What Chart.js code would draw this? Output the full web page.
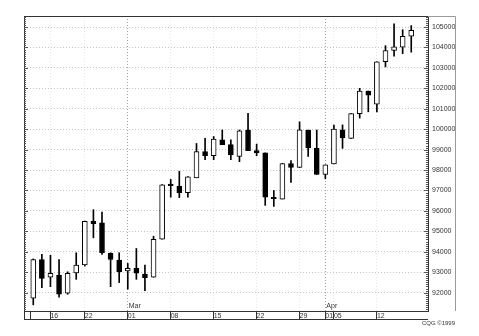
<!DOCTYPE html>
<html>
<head>
<meta charset="utf-8">
<script src="https://cdn.jsdelivr.net/npm/chart.js@4.4.0/dist/chart.umd.min.js"></script>
<style>
  body { margin: 0; background: #fff; }
  #wrap { width: 479px; height: 336px; }
</style>
</head>
<body>
<div id="wrap"><canvas id="candleChart" width="479" height="336"></canvas></div>
<script>
// daily bars, Feb 11 - Apr 16 1999
const dates = [
  '02-11', '02-12', '02-16', '02-17', '02-18', '02-19', '02-22', '02-23', '02-24', '02-25', '02-26',
  '03-01', '03-02', '03-03', '03-04', '03-05', '03-08', '03-09', '03-10', '03-11', '03-12',
  '03-15', '03-16', '03-17', '03-18', '03-19', '03-22', '03-23', '03-24', '03-25', '03-26',
  '03-29', '03-30', '03-31', '04-01', '04-05', '04-06', '04-07', '04-08', '04-09',
  '04-12', '04-13', '04-14', '04-15', '04-16'
];
const opens = [
  91730, 93620, 92750, 92860, 91970, 92970, 93350, 95490, 95410, 93920, 93590,
  93060, 93190, 92910, 92750, 94610, 97310, 97200, 96890, 97620, 98900,
  98700, 99480, 99240, 98670, 99960, 98950, 98840, 96660, 96580, 98320,
  98130, 99960, 99080, 97780, 98300, 99970, 99550, 100760, 101870,
  101220, 103300, 103850, 104010, 104550
];
const highs = [
  93650, 93880, 93830, 93620, 93020, 93950, 95500, 96060, 95940, 93950, 93950,
  93430, 94160, 93350, 94760, 97290, 97540, 97940, 97680, 99300, 99550,
  99640, 99960, 99480, 99960, 100780, 99270, 98840, 97000, 98320, 98460,
  100360, 99960, 99960, 98250, 100200, 100210, 100760, 102000, 101870,
  103300, 104090, 105160, 104870, 105070
];
const lows = [
  91400, 92240, 92290, 91780, 91920, 92650, 93300, 94680, 93870, 92290, 92490,
  92170, 92650, 92100, 92750, 94610, 96670, 96650, 96670, 97620, 98510,
  98510, 99240, 98510, 98410, 98950, 98700, 96270, 96220, 96580, 97400,
  98130, 98670, 97780, 97570, 98300, 99060, 99550, 100540, 100850,
  100850, 103050, 103570, 103700, 103770
];
const closes = [
  93620, 92700, 92950, 91920, 92950, 93350, 95490, 95380, 93950, 93630, 93020,
  93190, 92950, 92730, 94610, 97280, 97230, 96890, 97670, 98900, 98700,
  99520, 99240, 98740, 99920, 98950, 98840, 96670, 96600, 98320, 98130,
  99970, 99080, 97780, 98250, 100000, 99570, 100760, 101870, 101670,
  103300, 103850, 104030, 104550, 104840
];
const yTicks = [92000, 93000, 94000, 95000, 96000, 97000, 98000, 99000,
  100000, 101000, 102000, 103000, 104000, 105000];
const weekStarts = ['02-16', '02-22', '03-01', '03-08', '03-15', '03-22', '03-29', '04-01', '04-05', '04-12'];
const monthStarts = ['03-01', '04-01'];
const monthNames = ['Mar', 'Apr'];

const FONT = '"Liberation Sans", Arial, sans-serif';

// frame, date strip, minor ticks and month names
const framePlugin = {
  id: 'frame',
  afterDraw(chart) {
    const { ctx, chartArea: a, scales: { x, y } } = chart;
    ctx.save();
    ctx.lineWidth = 1;
    ctx.strokeStyle = '#333';
    ctx.beginPath();
    ctx.moveTo(a.left + 0.5, a.top); ctx.lineTo(a.left + 0.5, a.bottom + 8.5);
    ctx.moveTo(a.left, a.top + 0.5); ctx.lineTo(a.right, a.top + 0.5);
    ctx.moveTo(a.left, a.bottom + 8.5); ctx.lineTo(a.right, a.bottom + 8.5);
    ctx.moveTo(a.left + 6.5, a.bottom); ctx.lineTo(a.left + 6.5, a.bottom + 8.5);
    ctx.stroke();

    ctx.strokeStyle = '#9a9a9a';
    ctx.beginPath();
    ctx.moveTo(a.right, a.top + 0.5);
    ctx.lineTo(chart.width - 23.5, a.top + 0.5);
    ctx.lineTo(chart.width - 23.5, a.bottom);
    ctx.stroke();

    ctx.strokeStyle = '#555';
    ctx.beginPath();
    for (let v = 91200; v <= 105500; v += 100) {
      const py = Math.round(y.getPixelForValue(v)) + 0.5;
      const len = v % 1000 === 0 ? 4 : 2;
      ctx.moveTo(a.left, py); ctx.lineTo(a.left + len, py);
      ctx.moveTo(a.right - len, py); ctx.lineTo(a.right, py);
    }
    ctx.stroke();

    ctx.fillStyle = '#333';
    ctx.font = '7px ' + FONT;
    ctx.textBaseline = 'bottom';
    ctx.textAlign = 'left';
    monthStarts.forEach((d, k) => {
      ctx.fillText(monthNames[k], x.getPixelForValue(dates.indexOf(d)) + 1, a.bottom - 1);
    });

    ctx.font = '6px ' + FONT;
    ctx.textAlign = 'right';
    ctx.textBaseline = 'alphabetic';
    ctx.fillText('CQG \u00a91999', chart.width - 24, chart.height - 11);
    ctx.restore();
  }
};

const bodyColors = opens.map((o, i) => closes[i] >= o ? '#ffffff' : '#000000');

const ctx = document.getElementById('candleChart').getContext('2d');
new Chart(ctx, {
  type: 'bar',
  data: {
    datasets: [{
      label: 'Body',
      data: dates.map((d, i) => ({ x: i, y: [opens[i], closes[i]] })),
      backgroundColor: bodyColors,
      borderColor: '#000',
      borderWidth: 1,
      borderSkipped: false,
      barThickness: 5,
      grouped: false,
      order: 0
    }, {
      label: 'Range',
      data: dates.map((d, i) => ({ x: i, y: [lows[i], highs[i]] })),
      backgroundColor: '#000',
      borderWidth: 0,
      barThickness: 1,
      grouped: false,
      order: 1
    }]
  },
  options: {
    responsive: false,
    animation: false,
    layout: { padding: { left: 24, top: 16, right: 23, bottom: 0 } },
    plugins: {
      legend: { display: false },
      tooltip: { enabled: false }
    },
    scales: {
      x: {
        type: 'linear',
        offset: false,
        min: -1.08,
        max: 45.95,
        afterBuildTicks: s => { s.ticks = weekStarts.map(d => ({ value: dates.indexOf(d) })); },
        afterFit: s => { s.height = 25; },
        grid: {
          offset: false,
          color: c => (c.tick && monthStarts.includes(dates[c.tick.value])) ? '#a0a0a0' : '#e6e6e6',
          tickColor: '#333',
          tickLength: 8
        },
        border: { color: '#333', dash: [1, 2] },
        ticks: {
          align: 'start',
          padding: -7,
          maxRotation: 0,
          autoSkip: false,
          color: '#333',
          font: { family: FONT, size: 7 },
          callback: v => dates[v].slice(3)
        }
      },
      y: {
        position: 'right',
        min: 91100,
        max: 105540,
        afterBuildTicks: s => { s.ticks = yTicks.map(v => ({ value: v })); },
        afterFit: s => { s.width = 28; },
        grid: { color: '#c4c4c4', drawTicks: false },
        border: { color: '#333', dash: [1, 2] },
        ticks: {
          padding: 4,
          color: '#333',
          font: { family: FONT, size: 7 },
          callback: v => String(v)
        }
      }
    }
  },
  plugins: [framePlugin]
});
</script>
</body>
</html>
